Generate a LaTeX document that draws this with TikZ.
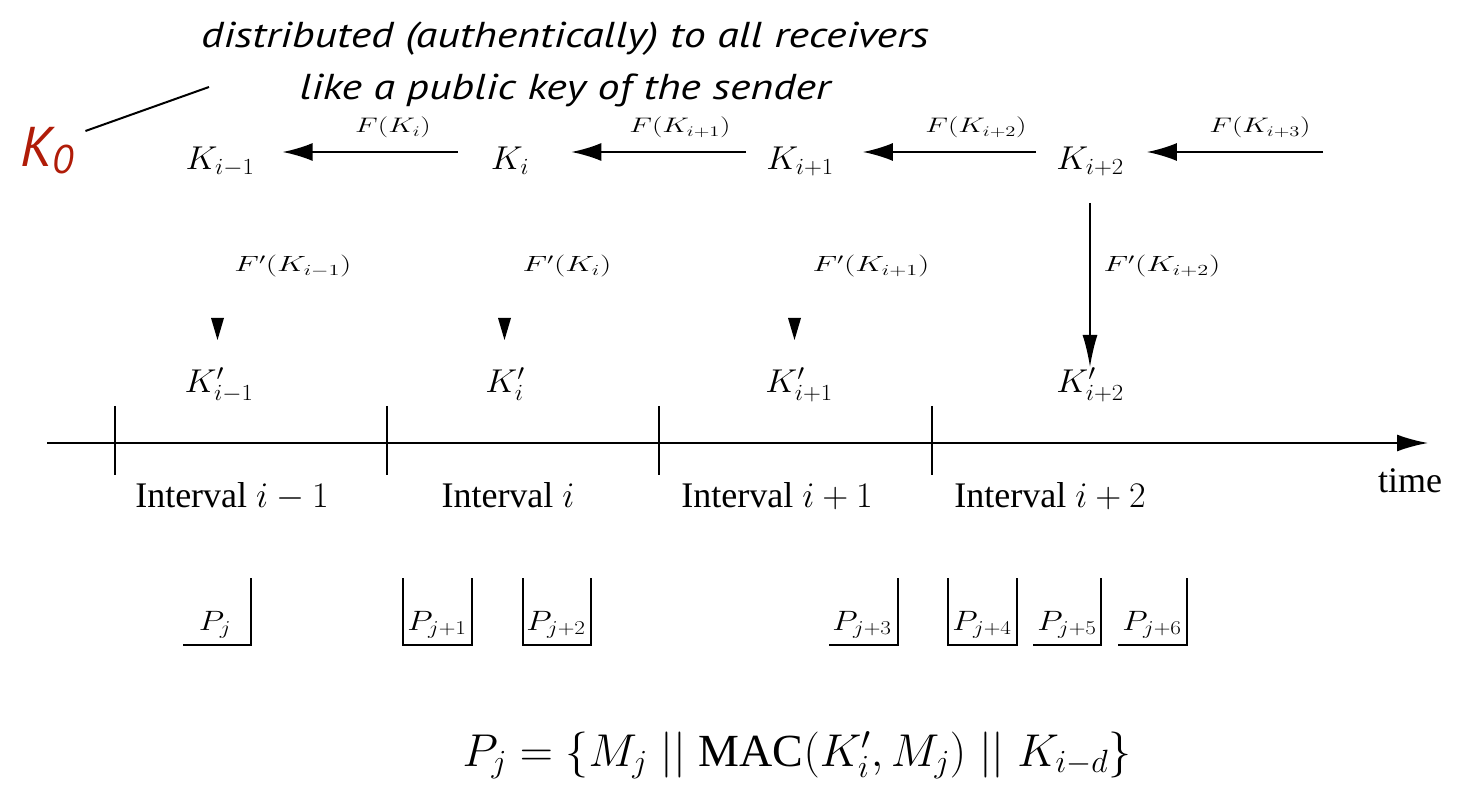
\RequirePackage{fix-cm}
\documentclass[tikz,border=0pt]{standalone}
\usepackage[no-math]{fontspec}
\setmainfont{Liberation Serif}
\newfontfamily\gillit{PT Sans}
\usetikzlibrary{arrows.meta}
\definecolor{kred}{RGB}{176,28,8}
\tikzset{
  keybig/.style={anchor=base, inner sep=0pt, font=\fontsize{33}{33}\selectfont, xscale=1.07},
  lab/.style={anchor=base, inner sep=0pt, font=\fontsize{21}{21}\selectfont, xscale=1.4},
  flab/.style={anchor=base, inner sep=0pt, font=\fontsize{22}{22}\selectfont, xscale=1.45},
  plab/.style={anchor=base, inner sep=0pt, font=\fontsize{28}{28}\selectfont, xscale=1.18},
  ival/.style={anchor=base, inner sep=0pt, font=\fontsize{36}{36}\selectfont},
  harr/.style={line width=2pt, -{Latex[length=30pt,width=18pt]}},
  varr/.style={line width=1.6pt, -{Latex[length=32pt,width=15pt]}},
  axis/.style={line width=2pt, -{Latex[length=31pt,width=17pt]}},
  tick/.style={line width=1.4pt},
  box/.style={line width=1.6pt},
  head/.style={fill=black},
  note/.style={font=\gillit\itshape\fontsize{36}{52}\selectfont, align=center, inner sep=0pt, xscale=1.22},
}
\begin{document}
\begin{tikzpicture}[x=1pt,y=-1pt]
\useasboundingbox (0,0) rectangle (1460,786);

% annotation
\node[note] (note) at (565,64) {distributed (authentically) to all receivers\\like a public key of the sender};
\node[anchor=base west, inner sep=0pt, text=kred, font=\gillit\itshape\fontsize{56}{56}\selectfont] (K0) at (20,167) {K\raisebox{-7pt}{\fontsize{40}{40}\selectfont 0}};
\coordinate (noteend) at (209,87);
\draw[line width=2pt] ([xshift=12pt,yshift=36pt]K0.base east) -- (noteend);

% keys row
\node[keybig] (Km1) at (220,170) {$K_{i-1}$};
\node[keybig] (Ki)  at (510,170) {$K_{i}$};
\node[keybig] (Kp1) at (800,170) {$K_{i+1}$};
\node[keybig] (Kp2) at (1090,170) {$K_{i+2}$};
\coordinate (Kp3) at (1323,152);

\draw[harr] ([xshift=-33pt,yshift=18pt]Ki.base west) -- ([xshift=28pt,yshift=18pt]Km1.base east);
\draw[harr] ([xshift=-20pt,yshift=18pt]Kp1.base west) -- ([xshift=42pt,yshift=18pt]Ki.base east);
\draw[harr] ([xshift=-20pt,yshift=18pt]Kp2.base west) -- ([xshift=29pt,yshift=18pt]Kp1.base east);
\draw[harr] (Kp3) -- ([xshift=23pt,yshift=18pt]Kp2.base east);

\node[lab] (fKi)  at (393,133) {$F(K_{i})$};
\node[lab] (fKp1) at (680,133) {$F(K_{i+1})$};
\node[lab] (fKp2) at (976,133) {$F(K_{i+2})$};
\node[lab] (fKp3) at (1260,133) {$F(K_{i+3})$};

% derived keys
\node[keybig] (Lm1) at (219,392) {$K'_{i-1}$};
\node[keybig] (Li)  at (505,392) {$K'_{i}$};
\node[keybig] (Lp1) at (799,392) {$K'_{i+1}$};
\node[keybig] (Lp2) at (1090,392) {$K'_{i+2}$};

\node[flab] (gm1) at (293,272) {$F'(K_{i-1})$};
\node[flab] (gi)  at (567,272) {$F'(K_{i})$};
\node[flab] (gp1) at (871,272) {$F'(K_{i+1})$};
\node[flab] (gp2) at (1162,272) {$F'(K_{i+2})$};

\draw[varr] ([yshift=-33pt]Kp2.base) -- ([yshift=25pt]Lp2.base);

\fill[head] (211,318) -- (224,318) -- (217.5,340) -- cycle;
\fill[head] (498,318) -- (511,318) -- (504.5,340) -- cycle;
\fill[head] (788,318) -- (801,318) -- (794.5,340) -- cycle;

% time axis
\coordinate (t0) at (47,443);
\coordinate (t1) at (1428,443);
\draw[axis] (t0) -- (t1);
\foreach \x in {115,387,659,932} \draw[tick] (\x,406) -- (\x,475);
\node[ival] (time) at (1410,492) {time};

\node[ival] (I1) at (232,507) {Interval $i-1$};
\node[ival] (I2) at (508,507) {Interval $i$};
\node[ival] (I3) at (777,507) {Interval $i+1$};
\node[ival] (I4) at (1050,507) {Interval $i+2$};

% packets
\draw[box] (183,645) -- (251,645) -- (251,578);
\draw[box] (403,578) -- (403,645) -- (472,645) -- (472,578);
\draw[box] (523,578) -- (523,645) -- (591,645) -- (591,578);
\draw[box] (829,645) -- (898,645) -- (898,578);
\draw[box] (948,578) -- (948,645) -- (1017,645) -- (1017,578);
\draw[box] (1033,645) -- (1101,645) -- (1101,578);
\draw[box] (1118,645) -- (1187,645) -- (1187,578);

\node[plab] (P0) at (215,630) {$P_{j}$};
\node[plab] (P1) at (437,630) {$P_{j+1}$};
\node[plab] (P2) at (556,630) {$P_{j+2}$};
\node[plab] (P3) at (862,630) {$P_{j+3}$};
\node[plab] (P4) at (982,630) {$P_{j+4}$};
\node[plab] (P5) at (1067,630) {$P_{j+5}$};
\node[plab] (P6) at (1152,630) {$P_{j+6}$};

% formula
\node[anchor=base, inner sep=0pt, font=\fontsize{46}{46}\selectfont] (formula) at (797,766)
  {$P_j = \{M_j \mathrel{||} \textrm{MAC}(K'_i, M_j) \mathrel{||} K_{i-d}\}$};
\end{tikzpicture}
\end{document}
